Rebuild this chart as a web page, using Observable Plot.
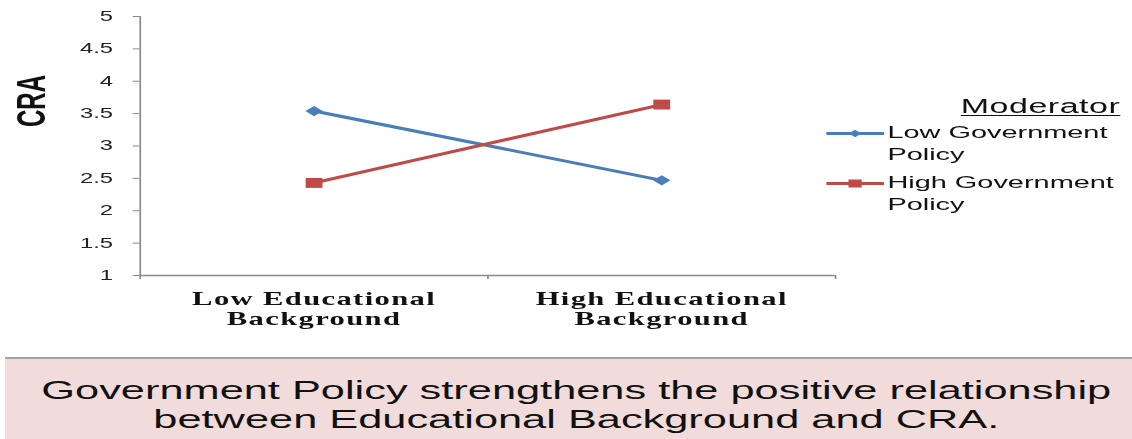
<!DOCTYPE html>
<html>
<head>
<meta charset="utf-8">
<script src="https://cdn.jsdelivr.net/npm/d3@7"></script>
<script src="https://cdn.jsdelivr.net/npm/@observablehq/plot@0.6"></script>
<style>
  html, body { margin: 0; padding: 0; background: #fff; overflow: hidden; }
  #stage { position: relative; width: 666px; height: 439px; transform: scaleX(1.7); transform-origin: 0 0; }
  #chart { position: absolute; left: 0; top: 0; }
  #chart g[aria-label="x-axis tick label"] text { letter-spacing: 0.8px; }
  #legend-title { position: absolute; right: 7px; top: 94px; font: 20px "Liberation Sans", Arial, sans-serif; line-height: 24px; letter-spacing: 0.3px; text-decoration: underline; text-decoration-thickness: 1px; text-underline-offset: 2px; color: #111; }
  .entry { position: absolute; left: 486px; }
  .entry svg { position: absolute; left: 0; top: 0; }
  .entry .lbl { position: absolute; left: 36px; top: 0; width: 142px; font: 17px "Liberation Sans", Arial, sans-serif; line-height: 22px; color: #111; }
  #caption { position: absolute; left: 3px; right: 0; top: 357px; height: 82px; background: #f2dcdb; border-top: 2px solid #a3a3a3; box-sizing: border-box; padding-top: 17px; padding-left: 9px; text-align: center; font: 25.5px "Liberation Sans", Arial, sans-serif; line-height: 29px; color: #111; }
</style>
</head>
<body>
<div id="stage">
  <div id="chart"></div>
  <div id="legend-title"></div>
  <div id="legend"></div>
  <div id="caption"></div>
</div>
<script>
// ---- data ----
const tickLabels = ["Low Educational\nBackground", "High Educational\nBackground"];
const series = ["Low Government Policy", "High Government Policy"];
const lowPolicyValues = [3.54, 2.47];
const highPolicyValues = [2.43, 3.64];
const yTicks = [1, 1.5, 2, 2.5, 3, 3.5, 4, 4.5, 5];
const colors = ["#4a7ebb", "#be4b48"];
const symbols = ["diamond2", "square"];
const yLabel = "CRA";
const legendTitle = "Moderator";
const captionLines = ["Government Policy strengthens the positive relationship", "between Educational Background and CRA."];

const valueSets = [lowPolicyValues, highPolicyValues];
const points = series.flatMap((s, j) => valueSets[j].map((v, i) => ({series: s, x: i + 0.5, y: v})));

const chart = Plot.plot({
  width: 666,
  height: 340,
  marginLeft: 82,
  marginRight: 175,
  marginTop: 16,
  marginBottom: 65,
  x: {domain: [0, tickLabels.length]},
  y: {domain: [1, 5]},
  color: {domain: series, range: colors},
  style: {background: "transparent", overflow: "visible", fontFamily: "'Liberation Sans', Arial, sans-serif"},
  marks: [
    Plot.ruleX([0], {stroke: "#8a8a8a", strokeWidth: 1}),
    Plot.ruleY([1], {stroke: "#8a8a8a", strokeWidth: 1.3}),
    Plot.axisY({ticks: yTicks, tickSize: 4, tickPadding: 12, tickFormat: d => String(d), fontSize: 14, stroke: "#8a8a8a", fill: "#222", label: null}),
    Plot.axisX({ticks: d3.range(tickLabels.length + 1), tickSize: 4, stroke: "#8a8a8a", fill: "none", label: null}),
    Plot.axisX({ticks: tickLabels.map((_, i) => i + 0.5), tickSize: 0, tickPadding: 15, tickFormat: d => tickLabels[Math.floor(d)], fontSize: 18, fontWeight: "bold", fontFamily: "'Liberation Serif', 'Times New Roman', serif", lineHeight: 1.12, fill: "#111", label: null}),
    Plot.line(points, {x: "x", y: "y", z: "series", stroke: "series", strokeWidth: 3}),
    Plot.dot(points.filter(d => d.series === series[0]), {x: "x", y: "y", fill: "series", symbol: () => symbols[0], r: 4.6, stroke: "none"}),
    Plot.dot(points.filter(d => d.series === series[1]), {x: "x", y: "y", fill: "series", symbol: () => symbols[1], r: 5.6, stroke: "none"}),
    Plot.text([yLabel], {frameAnchor: "top-left", textAnchor: "middle", lineAnchor: "middle", dx: -63.8, dy: 84.5, rotate: -90, fontSize: 24, fontWeight: "bold", fontFamily: "'Liberation Sans', Arial, sans-serif", fill: "#111"})
  ]
});
document.getElementById("chart").appendChild(chart);

// ---- legend ----
document.getElementById("legend-title").textContent = legendTitle;
const legend = document.getElementById("legend");
const entryTops = [122, 172];
series.forEach((s, j) => {
  const e = document.createElement("div");
  e.className = "entry";
  e.style.top = entryTops[j] + "px";
  const ns = "http://www.w3.org/2000/svg";
  const svg = document.createElementNS(ns, "svg");
  svg.setAttribute("width", 36); svg.setAttribute("height", 24);
  const ln = document.createElementNS(ns, "line");
  ln.setAttribute("x1", 0); ln.setAttribute("x2", 34); ln.setAttribute("y1", 11.5); ln.setAttribute("y2", 11.5);
  ln.setAttribute("stroke", colors[j]); ln.setAttribute("stroke-width", 3);
  svg.appendChild(ln);
  const sym = document.createElementNS(ns, "path");
  const sz = j === 0 ? Math.PI * 3.4 * 3.4 : Math.PI * 4.4 * 4.4;
  sym.setAttribute("d", d3.symbol(j === 0 ? d3.symbolDiamond2 : d3.symbolSquare, sz)());
  sym.setAttribute("transform", "translate(17,11.5)");
  sym.setAttribute("fill", colors[j]);
  svg.appendChild(sym);
  e.appendChild(svg);
  const lbl = document.createElement("div");
  lbl.className = "lbl";
  lbl.textContent = s;
  e.appendChild(lbl);
  legend.appendChild(e);
});

// ---- caption ----
const cap = document.getElementById("caption");
captionLines.forEach((t, i) => {
  if (i) cap.appendChild(document.createElement("br"));
  cap.appendChild(document.createTextNode(t));
});
</script>
</body>
</html>
